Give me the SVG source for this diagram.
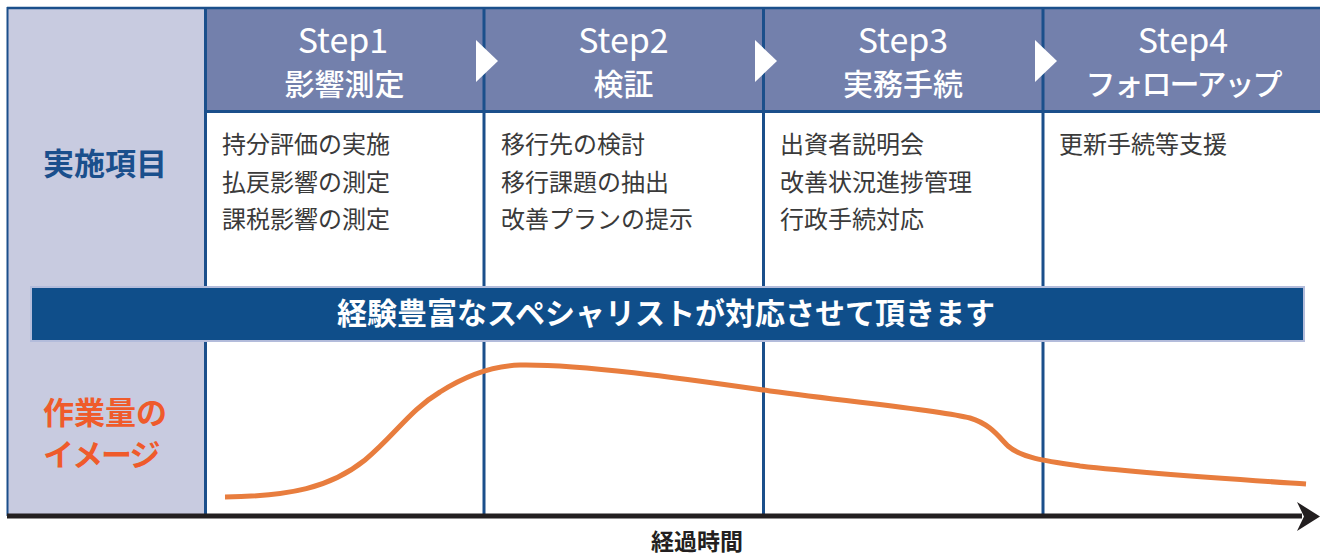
<svg xmlns="http://www.w3.org/2000/svg" width="1320" height="556" viewBox="0 0 1320 556">
<defs>
<style>
.jp{font-family:"Noto Sans CJK JP","Noto Sans",sans-serif;}
.hdr{fill:#ffffff;font-size:30px;font-weight:500;text-anchor:middle;}
.step{fill:#ffffff;font-size:34px;font-weight:400;text-anchor:middle;}
.item{fill:#3a3a3a;font-size:24px;font-weight:400;}
.div{stroke:#1b4f8b;stroke-width:3;}
.tri{fill:#ffffff;}
</style>
</defs>
<rect x="0" y="0" width="1320" height="556" fill="#ffffff"/>
<!-- left label column -->
<g id="left-column">
<rect x="7" y="8" width="198" height="508" fill="#c8cbe0"/>
<line x1="7.5" y1="7" x2="7.5" y2="516" stroke="#1b4f8b" stroke-width="2"/>
</g>
<!-- header band -->
<g id="header">
<rect x="205" y="8" width="1115" height="104" fill="#7380ac"/>
<line x1="7" y1="8" x2="1320" y2="8" stroke="#1b4f8b" stroke-width="2.5"/>
<line x1="205" y1="111.5" x2="1320" y2="111.5" stroke="#1b4f8b" stroke-width="3"/>
</g>
<!-- column dividers -->
<g id="dividers">
<line class="div" x1="205.5" y1="8" x2="205.5" y2="516"/>
<line class="div" x1="484" y1="8" x2="484" y2="516"/>
<line class="div" x1="763.5" y1="8" x2="763.5" y2="516"/>
<line class="div" x1="1043" y1="8" x2="1043" y2="516"/>
</g>
<g id="step-arrows">
<polygon class="tri" points="476,40 498,61 476,82"/>
<polygon class="tri" points="755,40 777,61 755,82"/>
<polygon class="tri" points="1035,40 1057,61 1035,82"/>
</g>
<g id="step1">
<text class="jp step" x="343" y="53">Step1</text>
<text class="jp hdr" x="344.5" y="95">影響測定</text>
<text class="jp item" x="222" y="153">持分評価の実施</text>
<text class="jp item" x="222" y="191">払戻影響の測定</text>
<text class="jp item" x="222" y="228">課税影響の測定</text>
</g>
<g id="step2">
<text class="jp step" x="623.5" y="53">Step2</text>
<text class="jp hdr" x="623.5" y="95">検証</text>
<text class="jp item" x="501" y="153">移行先の検討</text>
<text class="jp item" x="501" y="191">移行課題の抽出</text>
<text class="jp item" x="501" y="228">改善プランの提示</text>
</g>
<g id="step3">
<text class="jp step" x="903" y="53">Step3</text>
<text class="jp hdr" x="903" y="95">実務手続</text>
<text class="jp item" x="780" y="153">出資者説明会</text>
<text class="jp item" x="780" y="191">改善状況進捗管理</text>
<text class="jp item" x="780" y="228">行政手続対応</text>
</g>
<g id="step4">
<text class="jp step" x="1183" y="53">Step4</text>
<text class="jp hdr" x="1183" y="95" letter-spacing="-2">フォローアップ</text>
<text class="jp item" x="1059" y="153">更新手続等支援</text>
</g>
<g id="row-labels">
<text class="jp" x="105" y="175" fill="#1a4f8c" font-size="31" font-weight="700" text-anchor="middle">実施項目</text>
<text class="jp" x="43" y="424" fill="#ef5b2b" font-size="31" font-weight="700">作業量の</text>
<text class="jp" x="43" y="466" fill="#ef5b2b" font-size="31" font-weight="700" letter-spacing="-2">イメージ</text>
</g>
<g id="banner">
<rect x="31" y="287" width="1273" height="54" fill="#0f4e8a" stroke="#b3bcdb" stroke-width="2"/>
<text class="jp" x="666" y="324" fill="#ffffff" font-size="30" font-weight="700" text-anchor="middle">経験豊富なスペシャリストが対応させて頂きます</text>
</g>
<g id="workload-curve">
<path d="M225,497 C290,496 330,488 365,460 C395,435 410,410 440,392 C465,376 490,366 520,365 C580,364 680,378 770,391 C860,403 940,410 970,418 C990,424 998,436 1008,446 C1022,458 1045,461 1080,466 C1150,474 1230,479 1306,484" fill="none" stroke="#e87d3e" stroke-width="5"/>
</g>
<g id="connectors">
<line x1="7" y1="516" x2="1302" y2="516" stroke="#231f20" stroke-width="5"/>
<polygon points="1297,502 1320,516.5 1297,531 1304,516.5" fill="#231f20"/>
</g>
<g id="axis-label">
<text class="jp" x="697" y="550" fill="#231f20" font-size="23" font-weight="700" text-anchor="middle">経過時間</text>
</g>
</svg>
